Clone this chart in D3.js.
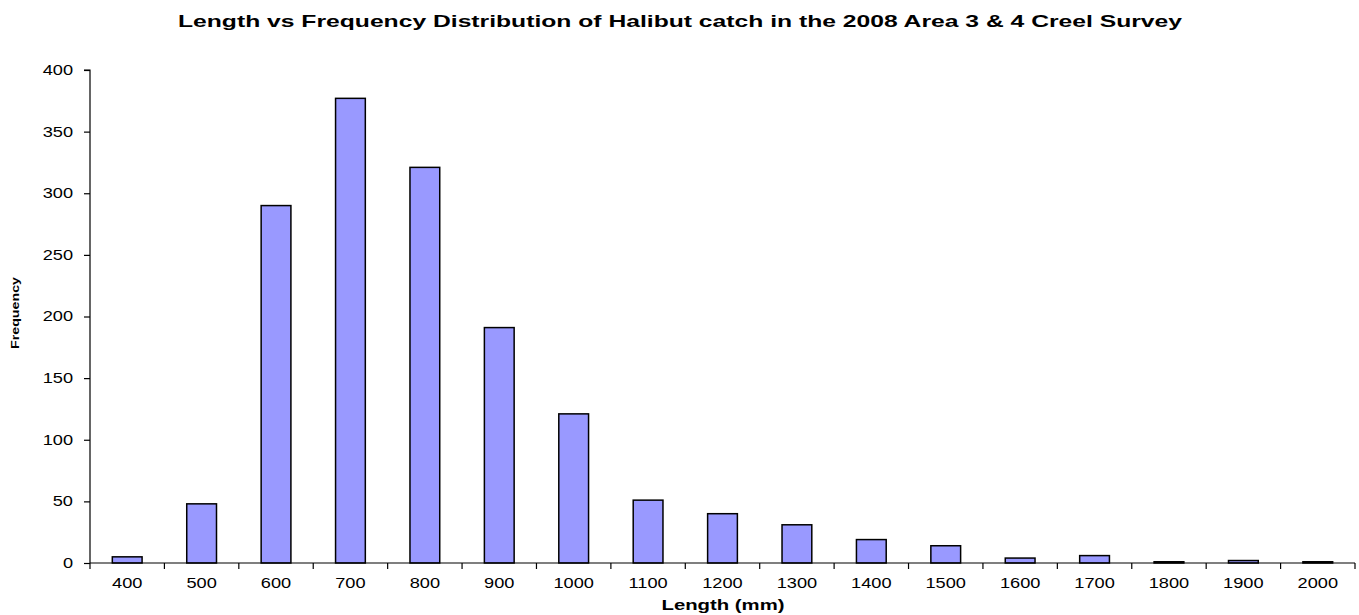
<!DOCTYPE html>
<html>
<head>
<meta charset="utf-8">
<script src="https://cdn.jsdelivr.net/npm/d3@7"></script>
<style>
  html, body { margin: 0; padding: 0; background: #fff; }
  svg { display: block; font-family: "Liberation Sans", Arial, sans-serif; }
</style>
</head>
<body>
<svg id="chart" width="1359" height="615"></svg>
<script>
// Length classes (mm) and number of halibut caught in each
const lengths = ["400","500","600","700","800","900","1000","1100","1200","1300","1400","1500","1600","1700","1800","1900","2000"];
const frequency = [5, 48, 290, 377, 321, 191, 121, 51, 40, 31, 19, 14, 4, 6, 1, 2, 1];
const yTicks = [0, 50, 100, 150, 200, 250, 300, 350, 400];

const svg = d3.select("#chart");
const margin = { left: 90, right: 4, top: 70, bottom: 52 };
const W = 1359, H = 615;
const plotW = W - margin.left - margin.right;
const plotH = H - margin.top - margin.bottom;

// widen glyphs horizontally (the chart uses a broad sans face)
function widen(sel, factor) {
  sel.each(function () {
    const w = this.getComputedTextLength();
    d3.select(this).attr("textLength", w * factor).attr("lengthAdjust", "spacingAndGlyphs");
  });
}

const g = svg.append("g").attr("transform", `translate(${margin.left},${margin.top})`);

const x = d3.scaleBand().domain(lengths).range([0, plotW]).paddingInner(0.6).paddingOuter(0.3);
const xTick = d3.scaleBand().domain(lengths).range([0, plotW]);
const y = d3.scaleLinear().domain([0, 400]).range([plotH, 0]);

// bars
g.selectAll("rect.bar")
  .data(lengths.map((l, i) => ({ l, v: frequency[i] })))
  .join("rect")
  .attr("class", "bar")
  .attr("x", d => x(d.l))
  .attr("width", x.bandwidth())
  .attr("y", d => y(d.v))
  .attr("height", d => plotH - y(d.v))
  .attr("fill", "#9999ff")
  .attr("stroke", "#000")
  .attr("stroke-width", 1.5);

// y axis
const yAxis = g.append("g")
  .call(d3.axisLeft(y).tickValues(yTicks).tickSize(6).tickPadding(11).tickFormat(d3.format("d")));
yAxis.select(".domain").attr("stroke", "#000").attr("stroke-width", 1.2).attr("d", `M-6,${y(400)}H0V${plotH}`);
yAxis.selectAll(".tick line").attr("stroke", "#000").attr("stroke-width", 1.2);
yAxis.selectAll(".tick text").attr("font-size", 14).attr("fill", "#000")
  .attr("font-family", "Liberation Sans, Arial, sans-serif")
  .call(widen, 1.3);

// x axis: labels centred in each class, tick marks on class boundaries
const xAxisG = g.append("g").attr("transform", `translate(0,${plotH})`);
xAxisG.append("line").attr("x1", 0).attr("x2", plotW).attr("stroke", "#000").attr("stroke-width", 1.2);
xAxisG.selectAll("line.tk")
  .data(lengths.concat(["end"]))
  .join("line")
  .attr("class", "tk")
  .attr("x1", (d, i) => i * xTick.step())
  .attr("x2", (d, i) => i * xTick.step())
  .attr("y1", 0).attr("y2", 6)
  .attr("stroke", "#000").attr("stroke-width", 1.2);
xAxisG.selectAll("text.lbl")
  .data(lengths)
  .join("text")
  .attr("class", "lbl")
  .attr("x", d => xTick(d) + xTick.bandwidth() / 2)
  .attr("y", 25)
  .attr("text-anchor", "middle")
  .attr("font-size", 14)
  .text(d => d)
  .call(widen, 1.3);

// titles
svg.append("text")
  .attr("x", 680).attr("y", 27)
  .attr("text-anchor", "middle")
  .attr("font-weight", "bold").attr("font-size", 16.5)
  .attr("textLength", 1004).attr("lengthAdjust", "spacingAndGlyphs")
  .text("Length vs Frequency Distribution of Halibut catch in the 2008 Area 3 & 4 Creel Survey");

svg.append("text")
  .attr("x", 723).attr("y", 610)
  .attr("text-anchor", "middle")
  .attr("font-weight", "bold").attr("font-size", 14)
  .attr("textLength", 123).attr("lengthAdjust", "spacingAndGlyphs")
  .text("Length (mm)");

svg.append("text")
  .attr("transform", "translate(19,313) rotate(-90)")
  .attr("text-anchor", "middle")
  .attr("font-weight", "bold").attr("font-size", 11)
  .attr("textLength", 72).attr("lengthAdjust", "spacingAndGlyphs")
  .text("Frequency");
</script>
</body>
</html>
